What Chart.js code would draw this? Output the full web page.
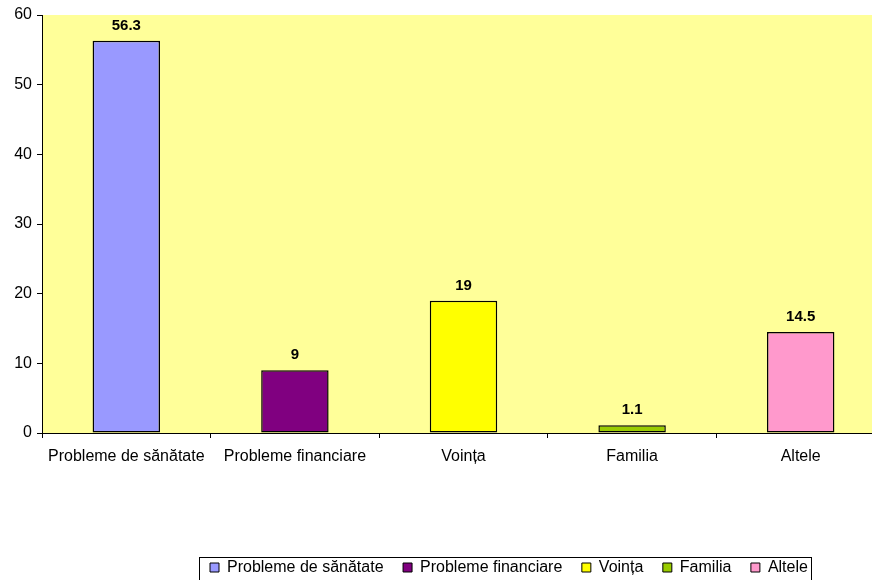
<!DOCTYPE html>
<html>
<head>
<meta charset="utf-8">
<script src="https://cdn.jsdelivr.net/npm/chart.js@4/dist/chart.umd.min.js"></script>
<style>
  html, body { margin: 0; padding: 0; background: #ffffff; overflow: hidden; }
  #wrap { width: 872px; height: 580px; position: relative; overflow: hidden; }
  #c { display: block; }
</style>
</head>
<body>
<div id="wrap"><canvas id="c" width="885" height="580"></canvas></div>
<script>
const categories = ['Probleme de sănătate', 'Probleme financiare', 'Voința', 'Familia', 'Altele'];
const values = [56.3, 9, 19, 1.1, 14.5];
const valueLabels = ['56.3', '9', '19', '1.1', '14.5'];
const barColors = ['#9999FF', '#800080', '#FFFF00', '#99CC00', '#FF99CC'];
const yTickValues = [0, 10, 20, 30, 40, 50, 60];

const FONT = "Arial, 'Liberation Sans', sans-serif";

const plotBg = {
  id: 'plotBg',
  beforeDraw(chart) {
    const {ctx, chartArea: a} = chart;
    ctx.save();
    ctx.fillStyle = '#FFFF99';
    ctx.fillRect(a.left, a.top, a.right - a.left, a.bottom - a.top);
    ctx.restore();
  }
};

const valueLabelPlugin = {
  id: 'valueLabels',
  afterDatasetsDraw(chart) {
    const {ctx} = chart;
    const meta = chart.getDatasetMeta(0);
    ctx.save();
    ctx.font = 'bold 15px ' + FONT;
    ctx.fillStyle = '#000';
    ctx.textAlign = 'center';
    ctx.textBaseline = 'alphabetic';
    meta.data.forEach((bar, i) => {
      ctx.fillText(valueLabels[i], bar.x, bar.y - 11);
    });
    ctx.restore();
  }
};

const legendPlace = {
  id: 'legendPlace',
  afterLayout(chart) {
    const lg = chart.legend;
    if (!lg) return;
    const pad = lg.options.labels.padding;
    lg.left = 210 - pad;
    lg.right = 900;
    lg.top = 559.5 - pad;
  },
  afterDraw(chart) {
    const {ctx} = chart;
    ctx.save();
    ctx.strokeStyle = '#000';
    ctx.lineWidth = 1;
    ctx.strokeRect(199.5, 557.5, 612, 40);
    ctx.restore();
  }
};

new Chart(document.getElementById('c'), {
  type: 'bar',
  data: {
    labels: categories,
    datasets: [{
      data: values,
      backgroundColor: barColors,
      borderColor: '#000000',
      borderWidth: 1.5,
      borderSkipped: false,
      barPercentage: 0.4,
      categoryPercentage: 1.0
    }]
  },
  options: {
    responsive: false,
    animation: false,
    devicePixelRatio: 1,
    layout: { padding: { left: 0, right: 0, top: 15, bottom: 0 } },
    plugins: {
      legend: {
        display: true,
        position: 'bottom',
        align: 'start',
        labels: {
          boxWidth: 9,
          boxHeight: 9,
          padding: 19.5,
          color: '#000',
          font: { family: FONT, size: 16 },
          generateLabels() {
            return categories.map((c, i) => ({
              text: c,
              fillStyle: barColors[i],
              strokeStyle: '#000',
              lineWidth: 1,
              hidden: false,
              index: i,
              datasetIndex: 0
            }));
          }
        }
      },
      tooltip: { enabled: false },
      title: { display: false }
    },
    scales: {
      x: {
        grid: { display: true, offset: true, drawOnChartArea: false, drawTicks: true, tickLength: 5, color: '#000' },
        border: { display: true, color: '#000', width: 1 },
        ticks: { color: '#000', font: { family: FONT, size: 16 }, padding: 9, maxRotation: 0, autoSkip: false },
        afterFit(scale) { scale.height = 580 - 433 - 45.5; }
      },
      y: {
        min: 0,
        max: 60,
        afterBuildTicks(scale) { scale.ticks = yTickValues.map(v => ({ value: v })); },
        grid: { display: true, drawOnChartArea: false, drawTicks: true, tickLength: 5, color: '#000' },
        border: { display: true, color: '#000', width: 1 },
        ticks: { color: '#000', font: { family: FONT, size: 16 }, padding: 5 },
        afterFit(scale) { scale.width = 42; }
      }
    }
  },
  plugins: [plotBg, valueLabelPlugin, legendPlace]
});
</script>
</body>
</html>
